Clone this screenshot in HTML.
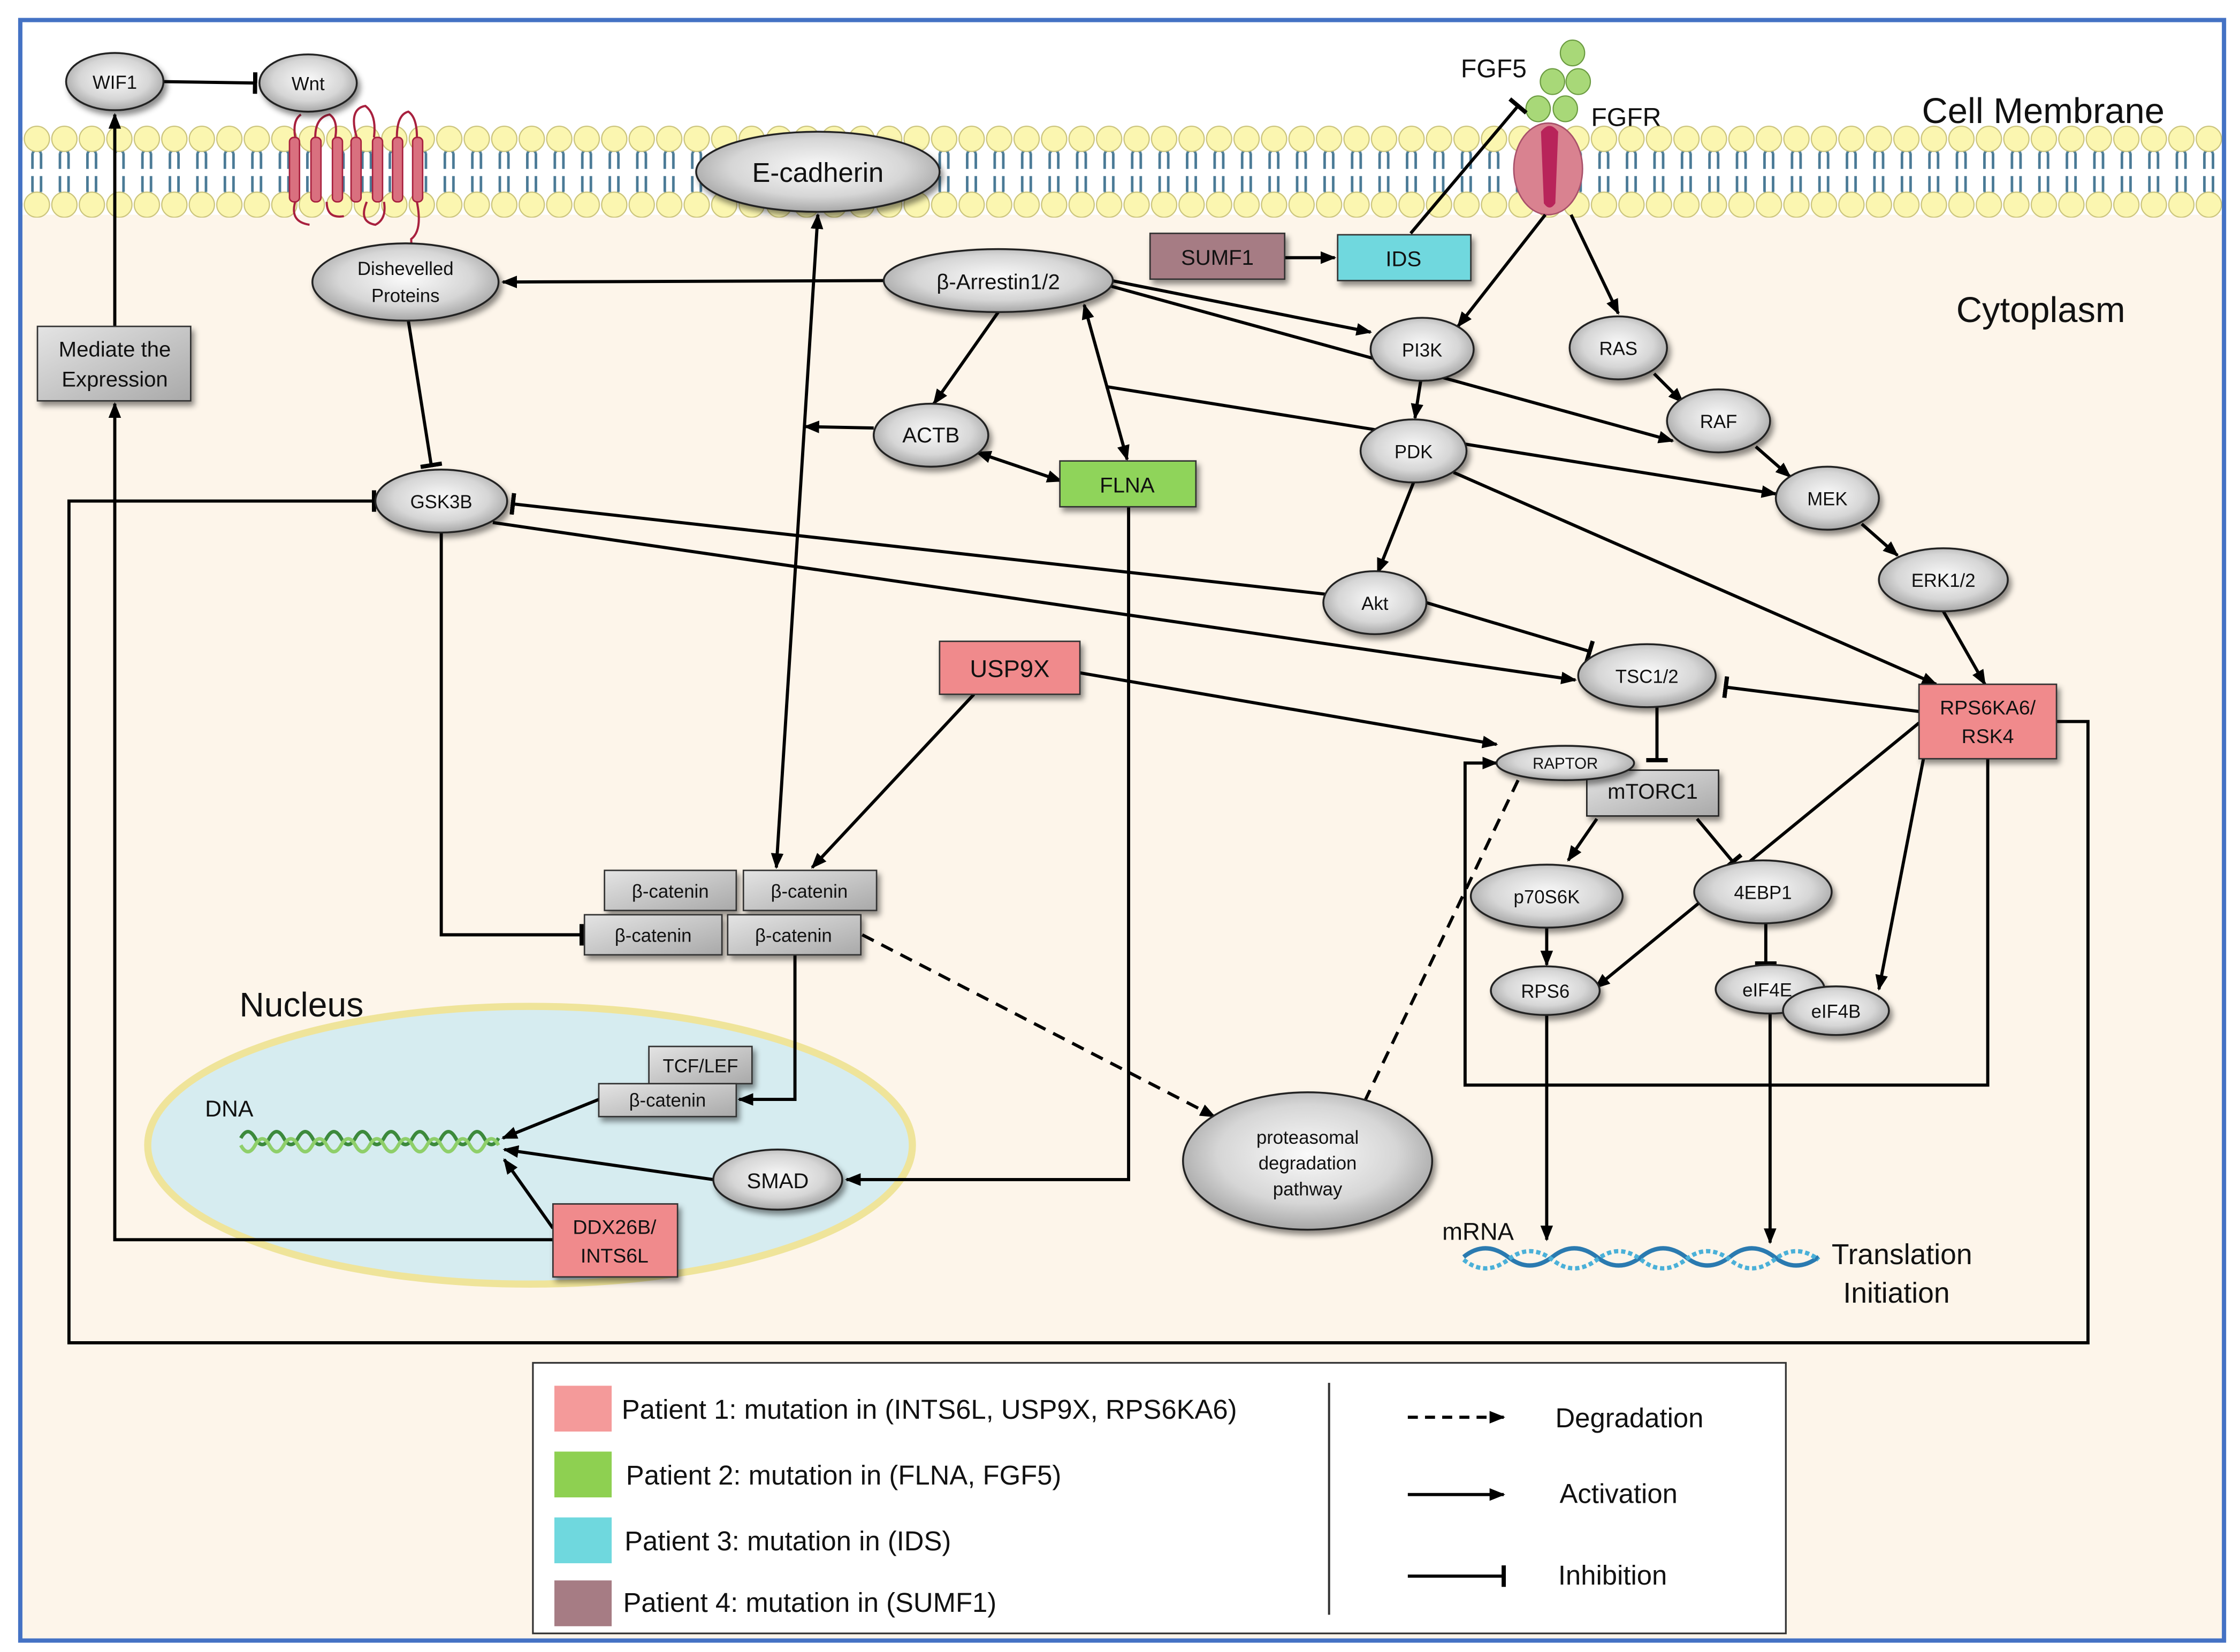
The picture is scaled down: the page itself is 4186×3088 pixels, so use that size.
<!DOCTYPE html>
<html><head><meta charset="utf-8"><style>
html,body{margin:0;padding:0;background:#fff}
svg{display:block}
text{font-family:"Liberation Sans",sans-serif;fill:#111}
</style></head><body>
<svg width="4186" height="3088" viewBox="0 0 1564 1154" xmlns="http://www.w3.org/2000/svg">
<defs>
<radialGradient id="g" cx="50%" cy="45%" r="60%"><stop offset="0" stop-color="#fafafa"/><stop offset="0.6" stop-color="#d6d6d6"/><stop offset="1" stop-color="#9a9a9a"/></radialGradient>
<linearGradient id="gr" x1="0" y1="0" x2="1" y2="1"><stop offset="0" stop-color="#e4e4e4"/><stop offset="1" stop-color="#a9a9a9"/></linearGradient>
<pattern id="mem" x="16" y="0" width="19.2" height="160" patternUnits="userSpaceOnUse">
<path d="M6.5 107 v11 M12.5 107 v11 M6.5 107 q3 -5 6 0 M9.5 103 v3 M6.5 123 v11 M12.5 123 v11 M6.5 134 q3 5 6 0 M9.5 135 v4" stroke="#4a7a96" stroke-width="1.8" fill="none"/>
<circle cx="9.6" cy="97" r="8.8" fill="#fbf6b0" stroke="#c9c27a" stroke-width="0.8"/>
<circle cx="9.6" cy="143" r="8.8" fill="#fbf6b0" stroke="#c9c27a" stroke-width="0.8"/>
</pattern>
<marker id="a" viewBox="0 0 10 10" refX="9" refY="5" markerWidth="11" markerHeight="11" markerUnits="userSpaceOnUse" orient="auto-start-reverse"><path d="M0 1 L10 5 L0 9 Z" fill="#000"/></marker>
<marker id="b" viewBox="0 0 4 20" refX="2" refY="10" markerWidth="3" markerHeight="18" markerUnits="userSpaceOnUse" orient="auto"><rect x="0" y="0" width="4" height="20" fill="#000"/></marker>
<filter id="sh" x="-20%" y="-20%" width="150%" height="150%"><feDropShadow dx="2" dy="3" stdDeviation="2" flood-opacity="0.45"/></filter>
</defs>

<rect x="0" y="0" width="1564" height="1154" fill="#fff"/>
<rect x="15" y="150" width="1537" height="995" fill="#fdf5ea"/>
<rect x="15" y="86" width="1537" height="66" fill="url(#mem)"/>
<rect x="14" y="14" width="1539" height="1132" fill="none" stroke="#4472c4" stroke-width="3"/>

<!-- frizzled receptor -->
<g fill="#d9707f" stroke="#a8203e" stroke-width="1">
<rect x="202" y="96" width="7" height="45" rx="3"/><rect x="217" y="96" width="7" height="45" rx="3"/><rect x="232" y="96" width="7" height="45" rx="3"/><rect x="245" y="96" width="7" height="45" rx="3"/><rect x="260" y="96" width="7" height="45" rx="3"/><rect x="274" y="96" width="7" height="45" rx="3"/><rect x="288" y="96" width="7" height="45" rx="3"/>
</g>
<path d="M206 96 q-2 -12 4 -16 M220 96 q0 -14 10 -16 q6 4 4 16 M249 96 q-6 -20 6 -22 q8 6 6 22 M277 96 q0 -16 8 -18 q6 4 6 18 M206 141 q-4 14 10 16 M228 141 q0 12 12 10 M256 141 q-6 14 6 16 q8 -4 6 -16 M291 141 q4 20 -4 26 q0 8 4 12" stroke="#a8203e" stroke-width="1.5" fill="none"/>

<!-- FGFR -->
<ellipse cx="1081" cy="118" rx="24" ry="32" fill="#d98290" stroke="#a8506a"/>
<path d="M1076 92 Q1082 84 1088 92 L1086 142 Q1082 148 1078 142 Z" fill="#b8245a"/>
<g fill="#a8d878" stroke="#6a9a40" stroke-width="0.8">
<ellipse cx="1098" cy="37" rx="8.5" ry="9"/><ellipse cx="1084" cy="57" rx="8.5" ry="9"/><ellipse cx="1102" cy="57" rx="8.5" ry="9"/><ellipse cx="1074" cy="76" rx="8.5" ry="9"/><ellipse cx="1093" cy="76" rx="8.5" ry="9"/>
</g>
<text x="1020" y="54" font-size="18">FGF5</text>
<text x="1111" y="88" font-size="18">FGFR</text>
<text x="1342" y="86" font-size="25">Cell Membrane</text>
<text x="1366" y="225" font-size="25">Cytoplasm</text>
<text x="167" y="710" font-size="24">Nucleus</text>

<!-- nucleus -->
<ellipse cx="370" cy="800" rx="267" ry="97" fill="#d6ecf0" stroke="#efe49a" stroke-width="5"/>
<text x="143" y="780" font-size="16">DNA</text>
<path d="M168 795 q5 -9 10 0 q5 9 10 0 q5 -9 10 0 q5 9 10 0 q5 -9 10 0 q5 9 10 0 q5 -9 10 0 q5 9 10 0 q5 -9 10 0 q5 9 10 0 q5 -9 10 0 q5 9 10 0 q5 -9 10 0 q5 9 10 0 q5 -9 10 0 q5 9 10 0 q5 -9 10 0 q5 9 10 0" stroke="#3c8a3c" stroke-width="2.5" fill="none"/>
<path d="M168 800 q5 9 10 0 q5 -9 10 0 q5 9 10 0 q5 -9 10 0 q5 9 10 0 q5 -9 10 0 q5 9 10 0 q5 -9 10 0 q5 9 10 0 q5 -9 10 0 q5 9 10 0 q5 -9 10 0 q5 9 10 0 q5 -9 10 0 q5 9 10 0 q5 -9 10 0 q5 9 10 0 q5 -9 10 0" stroke="#8fcf6a" stroke-width="2.5" fill="none"/>

<!-- mRNA -->
<path d="M1022 878 q15 -12 31 0 q15 12 31 0 q15 -12 31 0 q15 12 31 0 q15 -12 31 0 q15 12 31 0 q15 -12 31 0 q15 12 31 0" stroke="#2a7ab0" stroke-width="3" fill="none"/>
<path d="M1022 880 q15 12 31 0 q15 -12 31 0 q15 12 31 0 q15 -12 31 0 q15 12 31 0 q15 -12 31 0 q15 12 31 0 q15 -12 31 0" stroke="#4ab0d8" stroke-width="3" fill="none" stroke-dasharray="3 2"/>
<text x="1007" y="866" font-size="17">mRNA</text>
<text x="1279" y="883" font-size="20">Translation</text>
<text x="1287" y="910" font-size="20">Initiation</text>

<!-- connectors -->
<g stroke="#000" stroke-width="2.2" fill="none">
<path d="M114 57 L178 58" marker-end="url(#b)"/>
<path d="M80 228 L80 80" marker-end="url(#a)"/>
<path d="M386 866 L80 866 L80 282" marker-end="url(#a)"/>
<path d="M386 858 L352 810" marker-end="url(#a)"/>
<path d="M571 150 L542 606" marker-start="url(#a)" marker-end="url(#a)"/>
<path d="M617 196 L351 197" marker-end="url(#a)"/>
<path d="M285 224 L301 325" marker-end="url(#b)"/>
<path d="M697 218 L652 282" marker-end="url(#a)"/>
<path d="M757 213 L787 321" marker-start="url(#a)" marker-end="url(#a)"/>
<path d="M776 196 L957 232" marker-end="url(#a)"/>
<path d="M776 200 L1168 308" marker-end="url(#a)"/>
<path d="M772 270 L1240 345" marker-end="url(#a)"/>
<path d="M610 299 L562 298" marker-end="url(#a)"/>
<path d="M682 316 L741 336" marker-start="url(#a)" marker-end="url(#a)"/>
<path d="M788 354 L788 824 L591 824" marker-end="url(#a)"/>
<path d="M985 163 L1060 74" marker-end="url(#b)"/>
<path d="M897 180 L932 180" marker-end="url(#a)"/>
<path d="M1079 150 L1018 228" marker-end="url(#a)"/>
<path d="M1097 150 L1130 219" marker-end="url(#a)"/>
<path d="M992 266 L988 292" marker-end="url(#a)"/>
<path d="M1155 261 L1175 281" marker-end="url(#a)"/>
<path d="M1226 312 L1250 333" marker-end="url(#a)"/>
<path d="M1300 366 L1325 388" marker-end="url(#a)"/>
<path d="M1357 427 L1386 478" marker-end="url(#a)"/>
<path d="M987 337 L962 400" marker-end="url(#a)"/>
<path d="M1015 330 L1352 478" marker-end="url(#a)"/>
<path d="M925 415 L358 352" marker-end="url(#b)"/>
<path d="M344 365 L1100 475" marker-end="url(#a)"/>
<path d="M996 421 L1110 455" marker-end="url(#b)"/>
<path d="M1340 497 L1205 480" marker-end="url(#b)"/>
<path d="M1157 494 L1157 531" marker-end="url(#b)"/>
<path d="M754 470 L1045 520" marker-end="url(#a)"/>
<path d="M680 485 L567 606" marker-end="url(#a)"/>
<path d="M1115 572 L1095 601" marker-end="url(#a)"/>
<path d="M1185 572 L1210 602" marker-end="url(#b)"/>
<path d="M1080 648 L1080 674" marker-end="url(#a)"/>
<path d="M1233 645 L1233 673" marker-end="url(#b)"/>
<path d="M1080 709 L1080 866" marker-end="url(#a)"/>
<path d="M1236 708 L1236 868" marker-end="url(#a)"/>
<path d="M1340 505 L1114 690" marker-end="url(#a)"/>
<path d="M1346 515 L1312 691" marker-end="url(#a)"/>
<path d="M1388 530 L1388 758 L1023 758 L1023 533 L1045 533" marker-end="url(#a)"/>
<path d="M308 372 L308 653 L406 653" marker-end="url(#b)"/>
<path d="M555 667 L555 768 L516 768" marker-end="url(#a)"/>
<path d="M418 768 L351 795" marker-end="url(#a)"/>
<path d="M498 824 L352 803" marker-end="url(#a)"/>
<path d="M1436 504 L1458 504 L1458 938 L48 938 L48 350 L261 350" marker-end="url(#b)"/>
<path d="M1060 545 L943 790" stroke-dasharray="9 6" marker-end="url(#a)"/>
<path d="M602 653 L848 780" stroke-dasharray="9 6" marker-end="url(#a)"/>
</g>

<!-- ellipse nodes -->
<g stroke="#222" stroke-width="1.3" fill="url(#g)" filter="url(#sh)">
<ellipse cx="80" cy="57" rx="34" ry="20"/>
<ellipse cx="215" cy="58" rx="34" ry="20"/>
<ellipse cx="571" cy="120" rx="85" ry="28"/>
<ellipse cx="283" cy="197" rx="65" ry="27"/>
<ellipse cx="697" cy="196" rx="80" ry="22"/>
<ellipse cx="993" cy="244" rx="36" ry="22"/>
<ellipse cx="1130" cy="243" rx="34" ry="22"/>
<ellipse cx="1200" cy="294" rx="36" ry="22"/>
<ellipse cx="987" cy="315" rx="37" ry="22"/>
<ellipse cx="1276" cy="348" rx="36" ry="22"/>
<ellipse cx="1357" cy="405" rx="45" ry="22"/>
<ellipse cx="960" cy="421" rx="36" ry="22"/>
<ellipse cx="1150" cy="472" rx="48" ry="22"/>
<ellipse cx="308" cy="350" rx="46" ry="22"/>
<ellipse cx="650" cy="304" rx="40" ry="22"/>
<ellipse cx="1080" cy="626" rx="53" ry="22"/>
<ellipse cx="1231" cy="623" rx="48" ry="22"/>
<ellipse cx="1079" cy="692" rx="38" ry="17"/>
<ellipse cx="1236" cy="691" rx="38" ry="17"/>
<ellipse cx="1282" cy="706" rx="37" ry="17"/>
<ellipse cx="913" cy="811" rx="87" ry="48"/>
<ellipse cx="543" cy="824" rx="45" ry="21"/>
</g>
<rect x="1108" y="538" width="92" height="32" fill="url(#gr)" stroke="#222" filter="url(#sh)"/>
<ellipse cx="1093" cy="533" rx="48" ry="12" fill="url(#g)" stroke="#222" stroke-width="1.3" filter="url(#sh)"/>

<!-- rect nodes -->
<g stroke="#333" stroke-width="1" filter="url(#sh)">
<rect x="26" y="228" width="107" height="52" fill="url(#gr)"/>
<rect x="803" y="163" width="94" height="32" fill="#a67c84"/>
<rect x="934" y="164" width="93" height="32" fill="#6fd8de"/>
<rect x="740" y="322" width="95" height="32" fill="#8fd45a"/>
<rect x="656" y="448" width="98" height="37" fill="#f08a8c"/>
<rect x="1340" y="478" width="96" height="52" fill="#f08a8c"/>
<rect x="386" y="841" width="87" height="51" fill="#f08a8c"/>
<rect x="422" y="608" width="92" height="28" fill="url(#gr)"/>
<rect x="519" y="608" width="93" height="28" fill="url(#gr)"/>
<rect x="408" y="639" width="96" height="28" fill="url(#gr)"/>
<rect x="508" y="639" width="93" height="28" fill="url(#gr)"/>
<rect x="453" y="731" width="72" height="26" fill="url(#gr)"/>
<rect x="418" y="757" width="96" height="23" fill="url(#gr)"/>
</g>

<!-- labels -->
<g font-size="13" text-anchor="middle">
<text x="80" y="62">WIF1</text>
<text x="215" y="63">Wnt</text>
<text x="571" y="127" font-size="19">E-cadherin</text>
<text x="283" y="192">Dishevelled</text>
<text x="283" y="211">Proteins</text>
<text x="697" y="202" font-size="15">β-Arrestin1/2</text>
<text x="993" y="249">PI3K</text>
<text x="1130" y="248">RAS</text>
<text x="1200" y="299">RAF</text>
<text x="987" y="320">PDK</text>
<text x="1276" y="353">MEK</text>
<text x="1357" y="410">ERK1/2</text>
<text x="960" y="426">Akt</text>
<text x="1150" y="477">TSC1/2</text>
<text x="308" y="355">GSK3B</text>
<text x="650" y="309" font-size="15">ACTB</text>
<text x="1093" y="537" font-size="11">RAPTOR</text>
<text x="1154" y="558" font-size="15">mTORC1</text>
<text x="1080" y="631">p70S6K</text>
<text x="1231" y="628">4EBP1</text>
<text x="1079" y="697">RPS6</text>
<text x="1234" y="696">eIF4E</text>
<text x="1282" y="711">eIF4B</text>
<text x="913" y="799">proteasomal</text>
<text x="913" y="817">degradation</text>
<text x="913" y="835">pathway</text>
<text x="543" y="830" font-size="15">SMAD</text>
<text x="80" y="249" font-size="15">Mediate the</text>
<text x="80" y="270" font-size="15">Expression</text>
<text x="850" y="185" font-size="15">SUMF1</text>
<text x="980" y="186" font-size="15">IDS</text>
<text x="787" y="344" font-size="15">FLNA</text>
<text x="705" y="473" font-size="17">USP9X</text>
<text x="1388" y="499" font-size="14">RPS6KA6/</text>
<text x="1388" y="519" font-size="14">RSK4</text>
<text x="429" y="862" font-size="14">DDX26B/</text>
<text x="429" y="882" font-size="14">INTS6L</text>
<text x="468" y="627">β-catenin</text>
<text x="565" y="627">β-catenin</text>
<text x="456" y="658">β-catenin</text>
<text x="554" y="658">β-catenin</text>
<text x="489" y="749">TCF/LEF</text>
<text x="466" y="773">β-catenin</text>
</g>

<!-- legend -->
<rect x="372" y="952" width="875" height="189" fill="#fff" stroke="#333" stroke-width="1.2"/>
<rect x="387" y="968" width="40" height="32" fill="#f49a9a"/>
<rect x="387" y="1014" width="40" height="32" fill="#8ed051"/>
<rect x="387" y="1060" width="40" height="32" fill="#6fd8de"/>
<rect x="387" y="1104" width="40" height="32" fill="#a67c84"/>
<g font-size="19">
<text x="434" y="991">Patient 1: mutation in (INTS6L, USP9X, RPS6KA6)</text>
<text x="437" y="1037">Patient 2: mutation in (FLNA, FGF5)</text>
<text x="436" y="1083">Patient 3: mutation in (IDS)</text>
<text x="435" y="1126">Patient 4: mutation in (SUMF1)</text>
<text x="1086" y="997">Degradation</text>
<text x="1089" y="1050">Activation</text>
<text x="1088" y="1107">Inhibition</text>
</g>
<line x1="928" y1="966" x2="928" y2="1128" stroke="#333" stroke-width="1.5"/>
<g stroke="#000" stroke-width="2.2" fill="none">
<path d="M983 990 L1050 990" stroke-dasharray="7 5" marker-end="url(#a)"/>
<path d="M983 1044 L1050 1044" marker-end="url(#a)"/>
<path d="M983 1101 L1050 1101" marker-end="url(#b)"/>
</g>
</svg>
</body></html>
